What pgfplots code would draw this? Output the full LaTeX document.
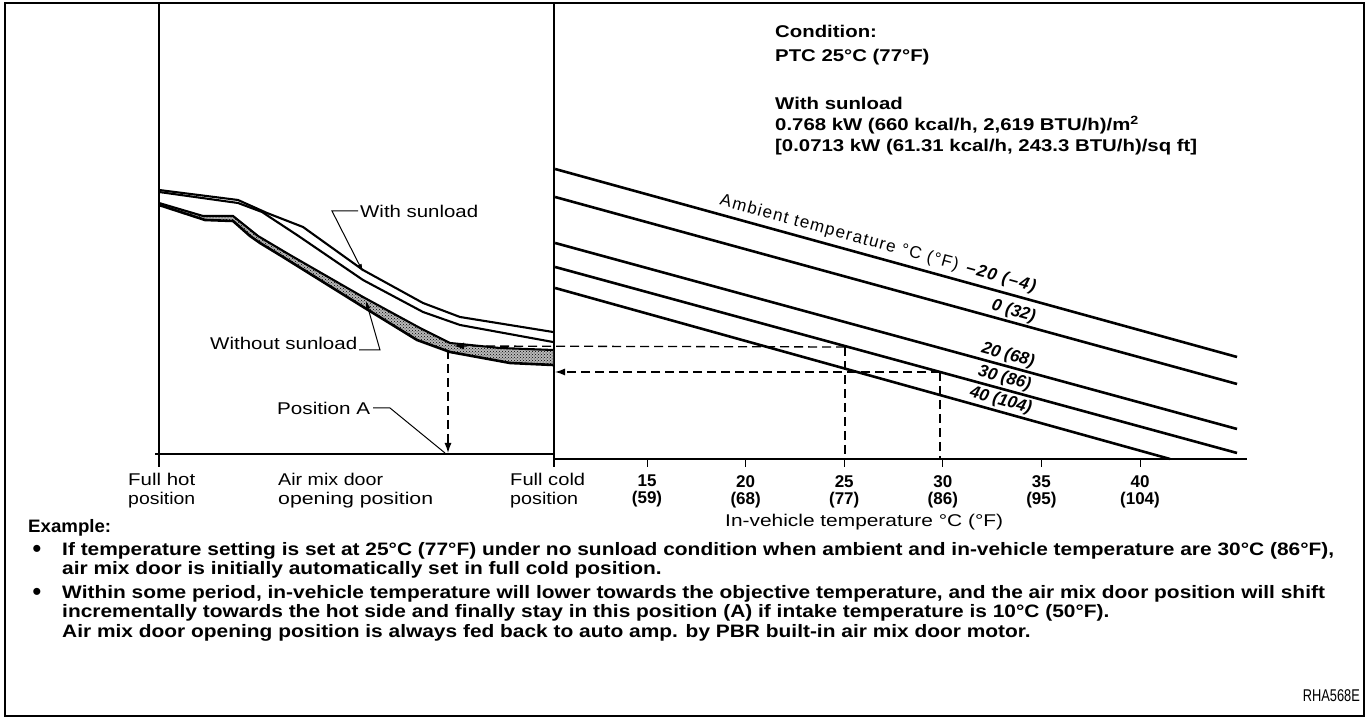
\documentclass[border=0pt]{standalone}
\usepackage{pgfplots}
\pgfplotsset{compat=1.18}
\usepackage{fontspec}
\setmainfont{Liberation Sans}
\usepackage{graphicx}
\usetikzlibrary{arrows.meta,patterns}
\newcommand{\rf}{\fontsize{17}{19}\selectfont}
\newcommand{\bfs}{\fontsize{17}{19}\selectfont\bfseries}
\newcommand{\bxs}{\fontsize{18}{20}\selectfont\bfseries}
\newcommand{\W}[2]{\resizebox{#1pt}{\height}{#2}}
\newlength\Lone
\newlength\Ltwo
\newcommand{\B}[1]{\scalebox{\sx}[1]{\bxs #1}}
\newcommand{\C}[1]{\scalebox{\sy}[1]{\bfs #1}}
\begin{document}%
\settowidth\Lone{\bxs If temperature setting is set at 25°C (77°F) under no sunload condition when ambient and in-vehicle temperature are 30°C (86°F),}%
\pgfmathsetmacro\sx{1272/\Lone}%
\settowidth\Ltwo{\bfs [0.0713 kW (61.31 kcal/h, 243.3 BTU/h)/sq ft]}%
\pgfmathsetmacro\sy{422/\Ltwo}%
\begin{tikzpicture}
\useasboundingbox (0,0) rectangle (1367pt,719pt);
% ---------------- overall frame, left panel, annotations (pixel coordinates, y up)
\begin{axis}[at={(0pt,0pt)}, anchor=south west, x=1pt, y=1pt,
  xmin=0, xmax=1367, ymin=0, ymax=719, hide axis, clip=false, scale only axis]
% frame
\addplot[black, line width=2pt] coordinates {(5,3) (1364,3) (1364,716) (5,716)} -- cycle;
% panel verticals
\addplot[black, line width=1.3pt] coordinates {(159,716) (159,252)};
\addplot[black, line width=1.3pt] coordinates {(554,716) (554,252)};
% left baseline
\addplot[black, line width=1.3pt] coordinates {(155,265) (554,265)};
% without sunload band (stippled)
\addplot[draw=none, fill=black!28] coordinates {
 (159,516) (203,503) (233,503) (258,483) (290,464) (363,422) (420,391) (450,376) (500,371) (553,369)
 (553,354) (510,356) (450,367) (417,379) (360,414) (283,462) (260,476) (250,483) (233,498) (205,499) (159,514)} -- cycle;
\addplot[draw=none, pattern=crosshatch dots, pattern color=black] coordinates {
 (159,516) (203,503) (233,503) (258,483) (290,464) (363,422) (420,391) (450,376) (500,371) (553,369)
 (553,354) (510,356) (450,367) (417,379) (360,414) (283,462) (260,476) (250,483) (233,498) (205,499) (159,514)} -- cycle;
% curves
\addplot[black, line width=2.1pt] coordinates {(159,529) (238,519) (267,506) (303,492) (363,449) (423,416) (460,402) (553,387)};
\addplot[black, line width=2.1pt] coordinates {(159,527) (238,516) (262,507) (297,484) (363,439) (423,407) (460,394) (553,377)};
\addplot[black, line width=2.1pt] coordinates {(159,516) (203,503) (233,503) (258,483) (290,464) (363,422) (420,391) (450,376) (500,371) (553,369)};
\addplot[black, line width=2.6pt] coordinates {(159,514) (205,499) (233,498) (250,483) (260,476) (283,462) (360,414) (417,379) (450,367) (510,356) (553,354)};
% dashed guide lines
\addplot[black, line width=1.3pt, dash pattern=on 9pt off 5pt, -{Latex[length=10pt,width=7pt]}] coordinates {(845,372) (454,373)};
\addplot[black, line width=1.3pt, dash pattern=on 9pt off 5pt] coordinates {(845,372) (845,260)};
\addplot[black, line width=1.3pt, dash pattern=on 9pt off 5pt, -{Latex[length=10pt,width=7pt]}] coordinates {(940,347) (555,347)};
\addplot[black, line width=1.3pt, dash pattern=on 9pt off 5pt] coordinates {(940,347) (940,260)};
\addplot[black, line width=1.3pt, dash pattern=on 9pt off 5pt, -{Latex[length=10pt,width=7pt]}] coordinates {(448,369) (448,266)};
% leaders
\addplot[black, line width=1pt, -{Latex[length=8pt,width=5pt]}] coordinates {(358,508) (332,508) (363,447)};
\addplot[black, line width=1pt, -{Latex[length=8pt,width=5pt]}] coordinates {(359,369) (380,369) (366,418)};
\addplot[black, line width=1pt] coordinates {(373,311) (390,311) (445,266)};
% texts, left panel
\node[anchor=base west, font=\rf, inner sep=0pt] at (360,501) {\W{118}{With sunload}};
\node[anchor=base west, font=\rf, inner sep=0pt] at (210,369) {\W{147}{Without sunload}};
\node[anchor=base west, font=\rf, inner sep=0pt] at (277,304) {\W{93}{Position A}};
\node[anchor=base west, font=\rf, inner sep=0pt] at (128,233) {\W{67}{Full hot}};
\node[anchor=base west, font=\rf, inner sep=0pt] at (128,214) {\W{67}{position}};
\node[anchor=base west, font=\rf, inner sep=0pt] at (278,233) {\W{105}{Air mix door}};
\node[anchor=base west, font=\rf, inner sep=0pt] at (278,214) {\W{155}{opening position}};
\node[anchor=base west, font=\rf, inner sep=0pt] at (510,233) {\W{75}{Full cold}};
\node[anchor=base west, font=\rf, inner sep=0pt] at (510,214) {\W{68}{position}};
\node[anchor=base west, font=\rf, inner sep=0pt] at (725,192) {\W{278}{In-vehicle temperature °C (°F)}};
% condition block
\node[anchor=base west, inner sep=0pt] at (775,681) {\C{Condition:}};
\node[anchor=base west, inner sep=0pt] at (775,657) {\C{PTC 25°C (77°F)}};
\node[anchor=base west, inner sep=0pt] at (775,609) {\C{With sunload}};
\node[anchor=base west, inner sep=0pt] at (775,588) {\C{0.768 kW (660 kcal/h, 2,619 BTU/h)/m\textsuperscript{2}}};
\node[anchor=base west, inner sep=0pt] at (775,567) {\C{[0.0713 kW (61.31 kcal/h, 243.3 BTU/h)/sq ft]}};
% example block
\node[anchor=base west, font=\bxs, inner sep=0pt] at (28,186) {\W{83}{Example:}};
\node[anchor=base, font=\fontsize{26}{26}\selectfont, inner sep=0pt] at (37,161) {\textbullet};
\node[anchor=base, font=\fontsize{26}{26}\selectfont, inner sep=0pt] at (37,118) {\textbullet};
\node[anchor=base west, inner sep=0pt] at (62,163) {\B{If temperature setting is set at 25°C (77°F) under no sunload condition when ambient and in-vehicle temperature are 30°C (86°F),}};
\node[anchor=base west, inner sep=0pt] at (62,144) {\B{air mix door is initially automatically set in full cold position.}};
\node[anchor=base west, inner sep=0pt] at (62,120) {\B{Within some period, in-vehicle temperature will lower towards the objective temperature, and the air mix door position will shift}};
\node[anchor=base west, inner sep=0pt] at (62,101) {\B{incrementally towards the hot side and finally stay in this position (A) if intake temperature is 10°C (50°F).}};
\node[anchor=base west, inner sep=0pt] at (62,81) {\B{Air mix door opening position is always fed back to auto amp. by PBR built-in air mix door motor.}};
\node[anchor=base east, font=\rf, inner sep=0pt] at (1360,17) {\W{57}{RHA568E}};
\end{axis}
% ---------------- right panel: in-vehicle temperature (deg C) vs door position
\begin{axis}[at={(553pt,260pt)}, anchor=south west, x=19.72pt, y=1pt,
  xmin=10.233, xmax=45.43, ymin=260, ymax=719, scale only axis, clip=false,
  axis x line*=bottom, axis y line=none,
  axis line style={line width=1.3pt, -},
  xtick={15,20,25,30,35,40},
  xticklabels={{15\\(59)},{20\\(68)},{25\\(77)},{30\\(86)},{35\\(95)},{40\\(104)}},
  xticklabel style={align=center, font=\fontsize{17}{17}\selectfont\bfseries, inner sep=1pt, yshift=-7pt},
  tick align=outside, major tick length=8pt,
  every tick/.style={black, line width=1pt}]
\addplot[black, line width=2.6pt] coordinates {(10.34,550) (44.92,362)}
  node[pos=0.468, sloped, above=1pt, font=\fontsize{17}{18}\selectfont] {\addfontfeature{LetterSpace=8}Ambient temperature °C (°F)\enspace\bfseries\itshape –20 (–4)};
\addplot[black, line width=2.6pt] coordinates {(10.34,522) (44.92,335)}
  node[pos=0.668, sloped, above=0pt, font=\fontsize{17}{17}\selectfont\bfseries\itshape, inner sep=1.5pt] {0 (32)};
\addplot[black, line width=2.6pt] coordinates {(10.34,476) (44.92,290)}
  node[pos=0.66, sloped, above=0pt, font=\fontsize{17}{17}\selectfont\bfseries\itshape, inner sep=1.5pt] {20 (68)};
\addplot[black, line width=2.6pt] coordinates {(10.34,452) (44.92,266)}
  node[pos=0.655, sloped, above=0pt, font=\fontsize{17}{17}\selectfont\bfseries\itshape, inner sep=1.5pt] {30 (86)};
\addplot[black, line width=2.6pt] coordinates {(10.34,431) (41.52,260)}
  node[pos=0.72, sloped, above=0pt, font=\fontsize{17}{17}\selectfont\bfseries\itshape, inner sep=1.5pt] {40 (104)};
\end{axis}
\end{tikzpicture}%
\end{document}
